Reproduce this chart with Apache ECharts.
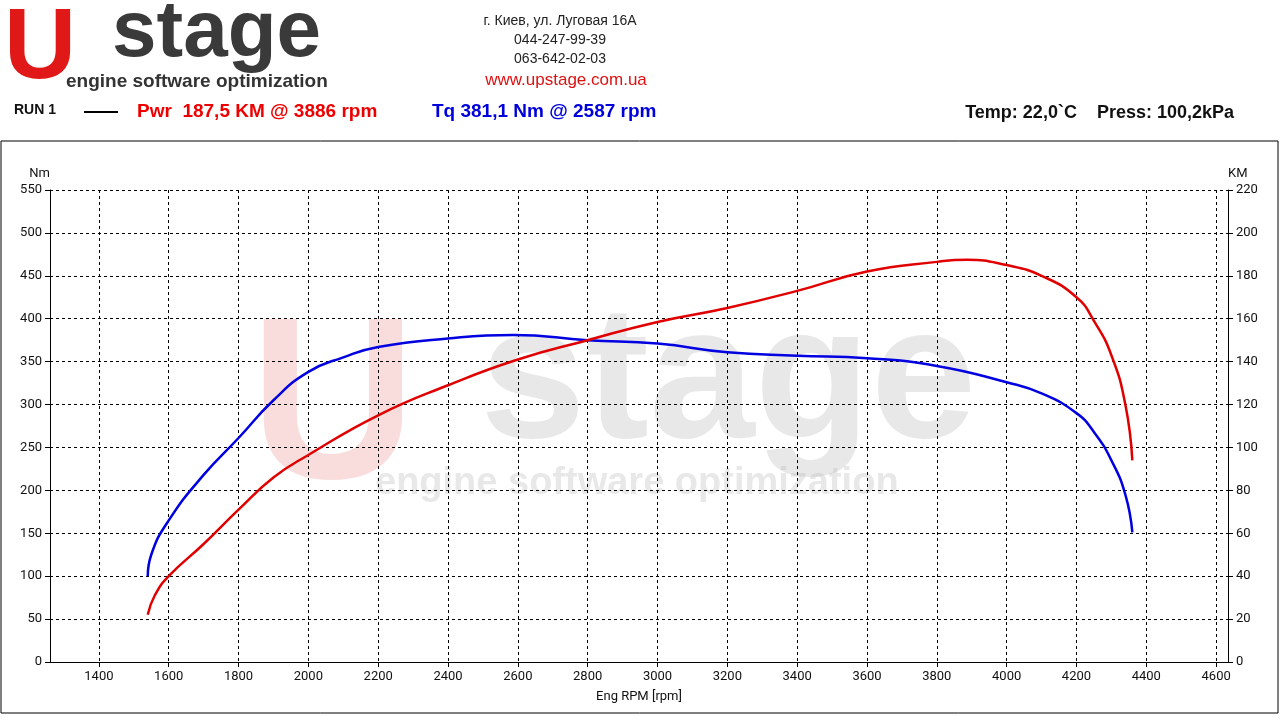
<!DOCTYPE html>
<html><head><meta charset="utf-8">
<script src="https://cdn.jsdelivr.net/npm/echarts@6/dist/echarts.min.js"></script>
<style>html,body{margin:0;background:#fff}#c{width:1280px;height:720px}</style>
</head><body><div id="c"></div>
<script>
const xTicks=[1400,1600,1800,2000,2200,2400,2600,2800,3000,3200,3400,3600,3800,4000,4200,4400,4600];
const torqueRpm=[1540,1550,1600,1700,1800,1900,2000,2100,2200,2400,2587,2800,3000,3200,3400,3600,3800,4000,4100,4200,4250,4300,4340,4360];
const torqueNm=[100,125,165,218,261,305,338,355,367,377,381,375,371,361,357,354,345,326,313,290,268,235,195,151];
const powerRpm=[1540,1560,1600,1700,1800,1900,2000,2200,2400,2600,2800,3000,3200,3400,3600,3800,3886,4000,4100,4200,4250,4300,4340,4360];
const powerKM=[22,31,40,55,71,86,96.5,115,129,141,150,158.5,165,173,182,186.5,187.5,185,180,170,159,143,120,94];
const chart=echarts.init(document.getElementById('c'));
const F='Roboto';
chart.setOption({
 animation:false,
 graphic:[
  {type:'text',style:{x:4,y:0,text:'U',font:'bold 100px Arial',fill:'#e01818'}},
  {type:'text',style:{x:112,y:-6,text:'stage',font:'bold 80px Arial',fill:'#3a3a3a'}},
  {type:'text',style:{x:66,y:72,text:'engine software optimization',font:'bold 19px Arial',fill:'#333'}},
  {type:'text',style:{x:560,y:12,text:'г. Киев, ул. Луговая 16А\n044-247-99-39\n063-642-02-03',font:'14px Arial',fill:'#222',align:'center',lineHeight:19}},
  {type:'text',style:{x:566,y:72,text:'www.upstage.com.ua',font:'17px Arial',fill:'#d11',align:'center'}},
  {type:'text',style:{x:14,y:103,text:'RUN 1',font:'bold 14px Arial',fill:'#111'}},
  {type:'rect',shape:{x:84,y:111,width:34,height:2},style:{fill:'#000'}},
  {type:'text',style:{x:137,y:102,text:'Pwr  187,5 KM @ 3886 rpm',font:'bold 19px Arial',fill:'#e00'}},
  {type:'text',style:{x:432,y:102,text:'Tq 381,1 Nm @ 2587 rpm',font:'bold 19px Arial',fill:'#00d'}},
  {type:'text',style:{x:1234,y:104,text:'Temp: 22,0`C    Press: 100,2kPa',font:'bold 18px Arial',fill:'#111',align:'right'}},
  {type:'rect',shape:{x:1,y:141,width:1277,height:572},style:{fill:'none',stroke:'#000',lineWidth:1}},
  {type:'text',z:-1,style:{x:250,y:300,text:'U',font:'bold 230px Arial',fill:'rgba(230,120,120,0.25)'}},
  {type:'text',z:-1,style:{x:480,y:290,text:'stage',font:'bold 190px Arial',fill:'rgba(180,180,180,0.3)'}},
  {type:'text',z:-1,style:{x:375,y:465,text:'engine software optimization',font:'bold 38px Arial',fill:'rgba(180,180,180,0.3)'}}
 ],
 grid:{left:50,right:52,top:190,bottom:58},
 xAxis:{type:'value',min:1260,max:4634,name:'Eng RPM [rpm]',nameLocation:'middle',nameGap:28,
  nameTextStyle:{fontFamily:F,fontSize:13,color:'#111'},
  axisLine:{lineStyle:{color:'#000'}},
  axisTick:{customValues:xTicks,length:5,lineStyle:{color:'#000'}},
  axisLabel:{customValues:xTicks,fontFamily:F,fontSize:13,color:'#111',formatter:v=>String(v)},
  splitLine:{show:true,lineStyle:{color:'#000',type:[3,3]}}},
 yAxis:[
  {type:'value',min:0,max:550,interval:50,name:'Nm',nameGap:10,nameTextStyle:{fontFamily:F,fontSize:13,color:'#111',align:'right'},
   axisLine:{show:true,lineStyle:{color:'#000'}},axisTick:{show:true},
   axisLabel:{fontFamily:F,fontSize:13,color:'#111'},
   splitLine:{lineStyle:{color:'#000',type:[3,3]}}},
  {type:'value',min:0,max:220,interval:20,name:'KM',nameGap:10,nameTextStyle:{fontFamily:F,fontSize:13,color:'#111',align:'left'},
   axisLine:{show:true,lineStyle:{color:'#000'}},axisTick:{show:true},
   axisLabel:{fontFamily:F,fontSize:13,color:'#111'},splitLine:{show:false}}
 ],
 series:[
  {type:'line',yAxisIndex:0,smooth:true,symbol:'none',lineStyle:{color:'#0000e0',width:2.5},data:torqueRpm.map((r,i)=>[r,torqueNm[i]])},
  {type:'line',yAxisIndex:1,smooth:true,symbol:'none',lineStyle:{color:'#e00000',width:2.5},data:powerRpm.map((r,i)=>[r,powerKM[i]])}
 ]
});
</script></body></html>
